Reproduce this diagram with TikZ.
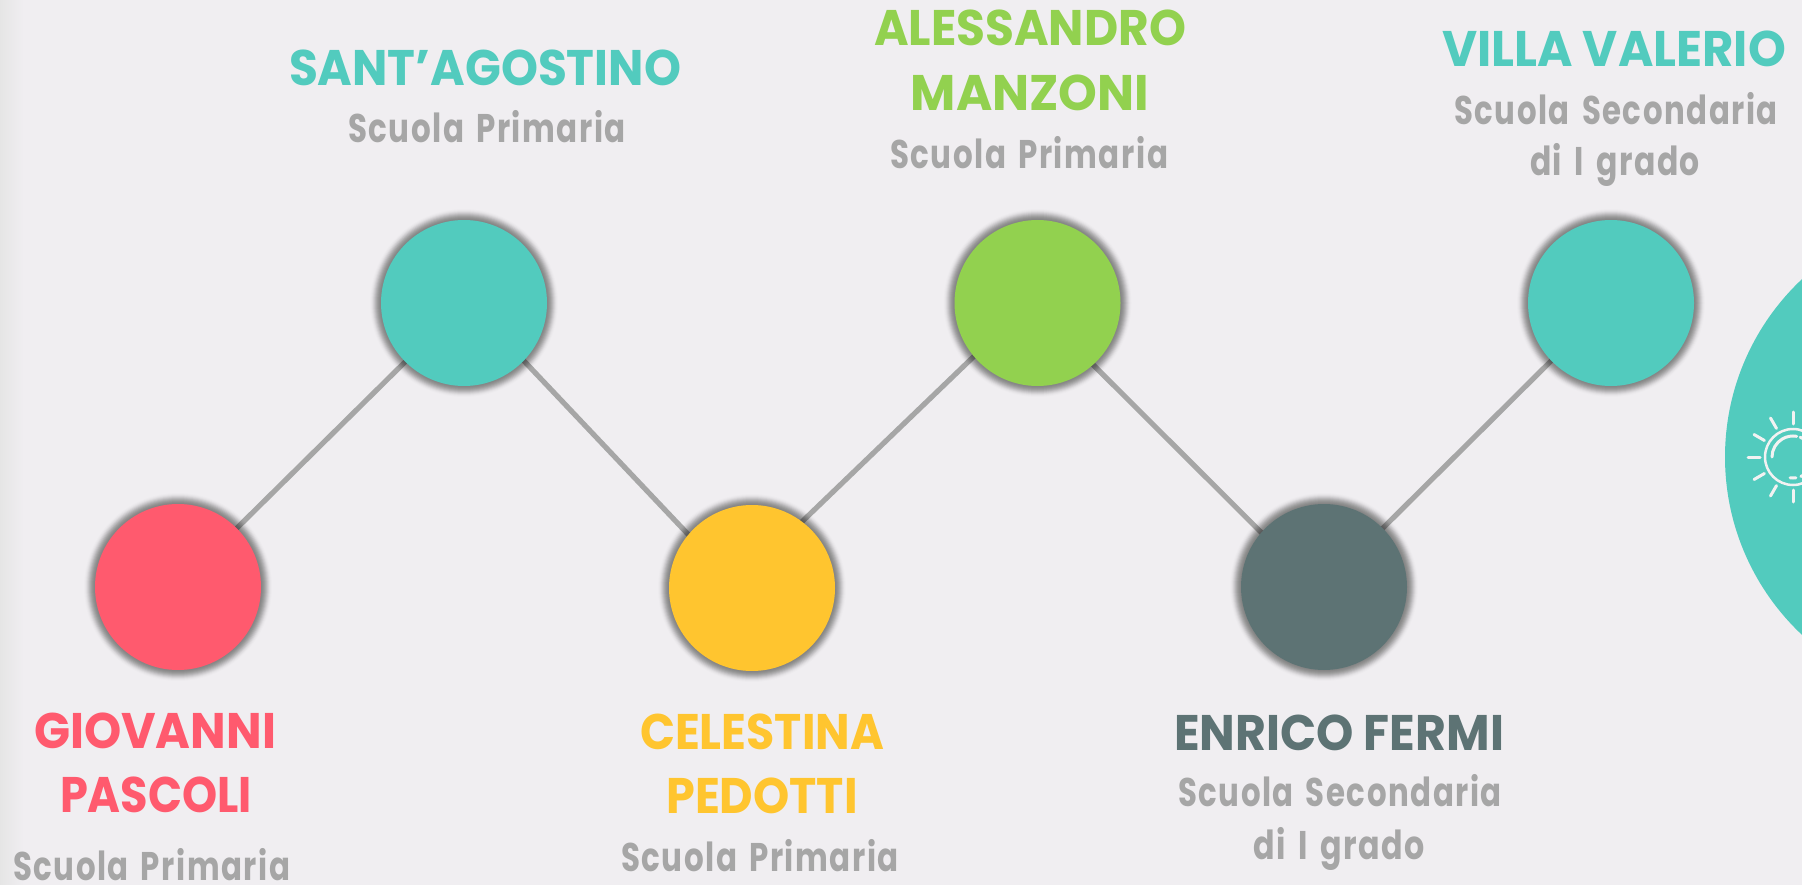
\documentclass[tikz,border=0pt]{standalone}
\usepackage{graphicx}
\usepackage{fontspec}
\usetikzlibrary{calc}
\setmainfont{Poppins}
\newfontfamily\grayf[LetterSpace=5.0,WordSpace=1.5]{Poppins}
\definecolor{bgc}{HTML}{F0EEF1}
\definecolor{tealc}{HTML}{52CBBE}
\definecolor{redc}{HTML}{FF5A6E}
\definecolor{yel}{HTML}{FFC52F}
\definecolor{grn}{HTML}{92D14F}
\definecolor{slate}{HTML}{5D7374}
\definecolor{greyt}{HTML}{A6A6A6}
\definecolor{sunw}{HTML}{F2F2F2}
\pgfdeclarelayer{bg}
\pgfdeclarelayer{shade}
\pgfsetlayers{bg,shade,main}
\newsavebox\lblbox
\newcommand{\fitw}[2]{\sbox\lblbox{#2}\pgfmathsetmacro\fitr{#1/(\wd\lblbox)}\scalebox{\fitr}[1]{\usebox\lblbox}}
% name, cx, baseline, width, colour, text
\newcommand{\nmt}[6]{\node[lbl,text=#5] (#1) at (#2,#3) {\fitw{(#4+4)}{\fontsize{50}{60}\selectfont\bfseries #6}};}
\newcommand{\sbt}[6]{\node[lbl,text=#5] (#1) at (#2,#3) {\fitw{(#4+2)}{\fontsize{40}{48}\grayf\bfseries #6}};}
\newcommand{\disc}[4]{%
  \begin{pgfonlayer}{shade}
    \foreach \rr/\op in {94/.01,93/.02,92/.03,91/.05,90/.06,89/.07,88/.07,87/.07,86/.06,85/.05,84/.04} {\fill[black,opacity=\op] (#2,#3) circle[radius=\rr];}
  \end{pgfonlayer}
  \node[dot,fill=#4] (#1) at (#2,#3) {};}
\tikzset{
  lbl/.style={anchor=base,inner sep=0pt,outer sep=0pt},
  dot/.style={circle,minimum size=166pt,inner sep=0pt,outer sep=0pt,draw=none},
  link/.style={line width=5.2pt,draw=greyt,shorten <=-3pt,shorten >=-3pt},
  ray/.style={line width=3pt,draw=sunw,line cap=round}
}
\begin{document}
\begin{tikzpicture}[x=1pt,y=-1pt]
\path[use as bounding box,clip] (0,0) rectangle (1802,885);
\begin{pgfonlayer}{bg}
\fill[bgc] (0,0) rectangle (1802,885);
\shade[left color=black!10,right color=bgc] (0,0) rectangle (24,885);
\end{pgfonlayer}
% big disc and sun
\fill[tealc] (1969,457) circle[radius=244];
\coordinate (sun) at (1793,457);
\draw[sunw,line width=2.5pt] (sun) circle[radius=28];
\foreach \a in {90,120,150,180,210,240,270} {
  \draw[ray] ($(sun)+(\a:33 and -33)$) -- ($(sun)+(\a:45 and -45)$);
}
\draw[ray] ($(sun)+(180:21 and -21)$) arc[start angle=180,end angle=80,x radius=21,y radius=-21];
\draw[ray] ($(sun)+(70:21 and -21)$) arc[start angle=70,end angle=60,x radius=21,y radius=-21];
\draw[ray] ($(sun)+(262:21 and -21)$) arc[start angle=262,end angle=278,x radius=21,y radius=-21];
\draw[ray] ($(sun)+(292:21 and -21)$) arc[start angle=292,end angle=305,x radius=21,y radius=-21];
% discs
\disc{d1}{178}{587}{redc}
\disc{d2}{464}{303}{tealc}
\disc{d3}{752}{588}{yel}
\disc{d4}{1037.5}{303}{grn}
\disc{d5}{1324}{587}{slate}
\disc{d6}{1611}{303}{tealc}
% connectors
\begin{pgfonlayer}{bg}
\draw[link] (d1.45.5) -- (d2.225.5);
\draw[link] (d2.-44.4) -- (d3.140.8);
\draw[link] (d3.53) -- (d4.220.7);
\draw[link] (d4.-48) -- (d5.139);
\draw[link] (d5.45.5) -- (d6.224.5);
\end{pgfonlayer}
% labels
\nmt{a1}{155}{748}{238}{redc}{GIOVANNI}
\nmt{a2}{156}{812}{188}{redc}{PASCOLI}
\sbt{a3}{151.5}{880}{275}{greyt}{Scuola Primaria}
\nmt{b1}{485}{85.5}{388}{tealc}{SANT’AGOSTINO}
\sbt{b2}{487}{142.5}{276}{greyt}{Scuola Primaria}
\nmt{c1}{762}{749}{240}{yel}{CELESTINA}
\nmt{c2}{762}{813}{187.5}{yel}{PEDOTTI}
\sbt{c3}{760}{871}{276}{greyt}{Scuola Primaria}
\nmt{e1}{1030}{46}{308}{grn}{ALESSANDRO}
\nmt{e2}{1030}{111}{234.5}{grn}{MANZONI}
\sbt{e3}{1029}{168.5}{276}{greyt}{Scuola Primaria}
\nmt{f1}{1339}{750}{326}{slate}{ENRICO FERMI}
\sbt{f2}{1340}{806.5}{321.6}{greyt}{Scuola Secondaria}
\sbt{f3}{1339}{859}{169.5}{greyt}{di I grado}
\nmt{g1}{1614}{67}{340}{tealc}{VILLA VALERIO}
\sbt{g2}{1616}{124.5}{321.5}{greyt}{Scuola Secondaria}
\sbt{g3}{1615}{175.5}{168}{greyt}{di I grado}
\end{tikzpicture}
\end{document}
